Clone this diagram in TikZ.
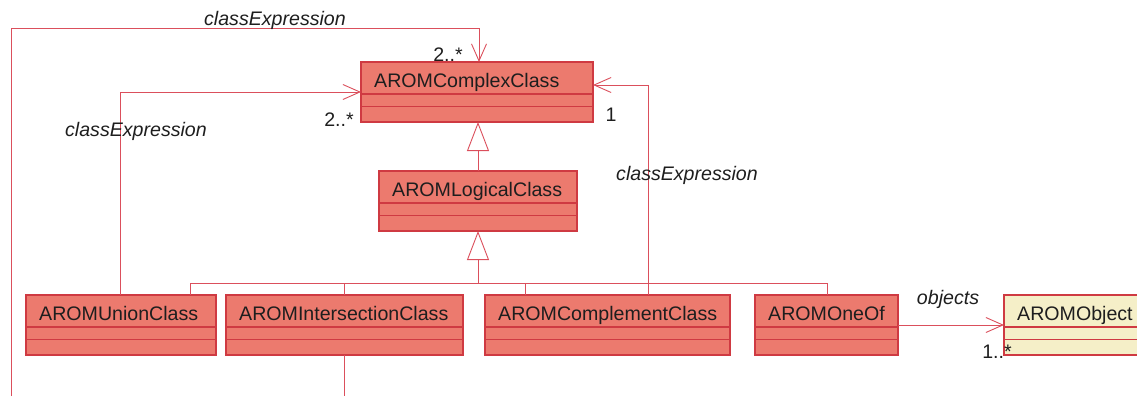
\documentclass[tikz,border=0pt]{standalone}
\usepackage{fontspec}
\setmainfont{Liberation Sans}
\usetikzlibrary{arrows.meta}
\definecolor{clsfill}{HTML}{EC7A6E}
\definecolor{clsborder}{HTML}{CF3A42}
\definecolor{objfill}{HTML}{F5EFC8}
\definecolor{connc}{HTML}{DB4F5C}
\definecolor{txt}{HTML}{1E1E1E}
\tikzset{
  clsbox/.style={draw=clsborder, fill=clsfill, line width=1.3pt, rectangle, inner sep=0pt, outer sep=0pt, anchor=north west, minimum height=60pt},
  objbox/.style={clsbox, fill=objfill},
  comp/.style={draw=clsborder, line width=1.1pt},
  clsname/.style={anchor=base west, inner sep=0pt, text=txt, font=\fontsize{19.6}{23}\selectfont},
  conn/.style={draw=connc, line width=0.9pt},
  assoc/.style={conn, -{Straight Barb[length=17pt, width=15pt, line width=0.9pt]}},
  gen/.style={conn, -{Triangle[open, length=29pt, width=22pt, fill=white, line width=0.9pt]}},
  lbl/.style={anchor=base, inner sep=0pt, text=txt, font=\fontsize{19.6}{23}\selectfont\itshape},
  mult/.style={anchor=base, inner sep=0pt, text=txt, font=\fontsize{19.6}{23}\selectfont},
}
\newcommand{\umlclass}[6][clsbox]{%
  \node[#1, minimum width={(#5-#3)*1pt}] (#2) at (#3,#4) {};
  \draw[comp] ([yshift=-32pt]#2.north west) -- ([yshift=-32pt]#2.north east);
  \draw[comp] ([yshift=-44.5pt]#2.north west) -- ([yshift=-44.5pt]#2.north east);
  \node[clsname] (#2-name) at ([xshift=13pt, yshift=-25pt]#2.north west) {#6};
}
\begin{document}
\begin{tikzpicture}[x=1pt, y=-1pt]
\useasboundingbox (0,0) rectangle (1137,396);
\clip (0,0) rectangle (1137,396);

% classes
\umlclass{complex}{361}{62}{593}{AROMComplexClass}
\umlclass{logical}{379}{171}{577}{AROMLogicalClass}
\umlclass{union}{26}{295}{216}{AROMUnionClass}
\umlclass{intersection}{226}{295}{463}{AROMIntersectionClass}
\umlclass{complement}{485}{295}{730}{AROMComplementClass}
\umlclass{oneof}{755}{295}{898}{AROMOneOf}
\umlclass[objbox]{object}{1004}{295}{1170}{AROMObject}

% generalizations
\draw[gen] (logical.north) -- (logical.north |- complex.south);
\coordinate (busmid) at (478,283);
\draw[gen] (busmid) -- (busmid |- logical.south);
\coordinate (busL) at (190,283);
\coordinate (busR) at (827,283);
\coordinate (cstub) at (525,283);
\draw[conn] (busL |- union.north) -- (busL) -- (busR) -- (busR |- oneof.north);
\draw[conn] (intersection.north) -- (intersection.north |- busL);
\draw[conn] (cstub) -- (cstub |- complement.north);

% associations
\draw[assoc] ([xshift=-1pt]union.north) |- (complex.west);
\coordinate (cx) at (648,0);
\draw[assoc] (cx |- complement.north) |- ([yshift=7pt]complex.east);
\coordinate (loopend) at (11,396);
\draw[assoc] (loopend) |- ([xshift=2pt,yshift=34pt]complex.north) -- ([xshift=2pt]complex.north);
\coordinate (intend) at (344.5,396);
\draw[conn] (intersection.south) -- (intend);
\draw[assoc] (oneof.east) -- (object.west);

% labels
\node[lbl] (l1) at (275,26) {classExpression};
\node[lbl] (l2) at (136,136) {classExpression};
\node[lbl] (l3) at (687,180) {classExpression};
\node[lbl] (l4) at (948,304) {objects};
\node[mult] (m1) at (448,61) {2..*};
\node[mult] (m2) at (339,126) {2..*};
\node[mult] (m3) at (611,121) {1};
\node[mult] (m4) at (997,358) {1..*};
\end{tikzpicture}
\end{document}
